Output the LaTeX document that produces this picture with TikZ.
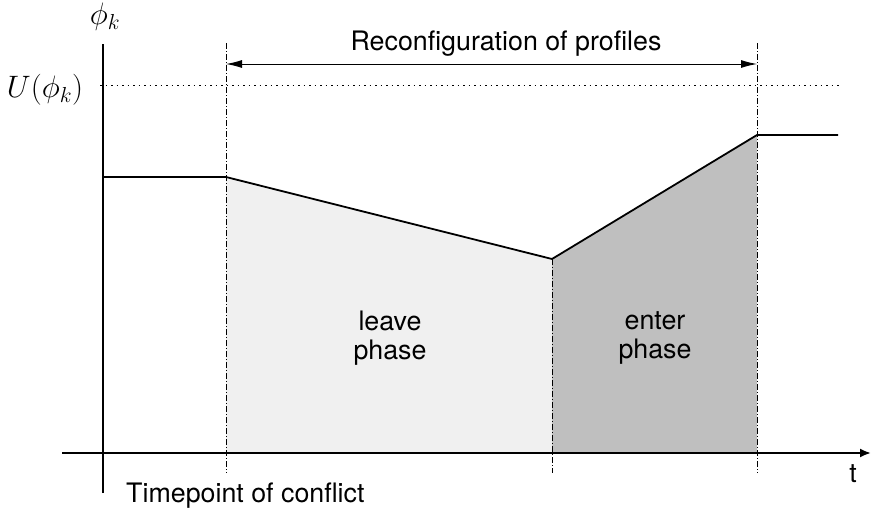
\documentclass[tikz,border=0pt]{standalone}
\usepackage{fix-cm}
\usepackage{fontspec}
\setmainfont{TeX Gyre Heros}
\setsansfont{TeX Gyre Heros}
\usetikzlibrary{arrows.meta}
\begin{document}
\begin{tikzpicture}[x=1pt,y=-1pt,
  lbl/.style={font=\fontsize{26.8}{29.5}\selectfont, inner sep=0pt, align=center},
  mlbl/.style={font=\fontsize{31}{34}\selectfont, inner sep=0pt},
  axis/.style={line width=2pt},
  profile/.style={line width=1.8pt, line join=miter},
  marker/.style={line width=0.8pt, dash pattern=on 6pt off 2pt on 1pt off 2pt},
  limit/.style={line width=0.8pt, dash pattern=on 1.5pt off 4pt},
  span/.style={line width=1pt, {Latex[length=16pt,width=8pt]}-{Latex[length=16pt,width=8pt]}}]
\useasboundingbox (0,0) rectangle (871,514);

% key points of the profile
\coordinate (p0) at (103,177);
\coordinate (p1) at (226,177);
\coordinate (p2) at (552,259);
\coordinate (p3) at (757,135);
\coordinate (p4) at (838,135);
\coordinate (b1) at (226,453);
\coordinate (b2) at (552,453);
\coordinate (b3) at (757,453);

% phase areas
\fill[gray!12] (p1) -- (p2) -- (b2) -- (b1) -- cycle;
\fill[gray!50] (p2) -- (p3) -- (b3) -- (b2) -- cycle;

% upper limit
\coordinate (u0) at (100,85);
\coordinate (u1) at (840,85);
\draw[limit] (u0) -- (u1);

% phase boundaries
\coordinate (m1t) at (226,43); \coordinate (m1b) at (226,473);
\coordinate (m2t) at (552,259); \coordinate (m2b) at (552,473);
\coordinate (m3t) at (757,43); \coordinate (m3b) at (757,473);
\draw[marker] (m1t) -- (m1b);
\draw[marker] (m2t) -- (m2b);
\draw[marker] (m3t) -- (m3b);

% axes
\coordinate (yb) at (103,493); \coordinate (yt) at (103,44);
\coordinate (xl) at (62,453);  \coordinate (xr) at (871,453);
\draw[axis] (yb) -- (yt);
\draw[axis, -{Latex[length=11pt,width=9pt]}] (xl) -- (xr);

% profile curve
\draw[profile] (p0) -- (p1) -- (p2) -- (p3) -- (p4);

% reconfiguration span
\coordinate (a1) at (226,64); \coordinate (a2) at (757,64);
\draw[span] (a1) -- (a2);

% labels
\node[mlbl] (phi) at (105,17) {$\phi_k$};
\node[mlbl] (ulim) at (45,90) {$U(\phi_k)$};
\node[lbl] (reconf) at (506,44) {Reconfiguration of profiles};
\node[lbl] (leave) at (390,338) {leave\\phase};
\node[lbl] (enter) at (655,338) {enter\\phase};
\node[lbl] (t) at (853,474) {t};
\node[lbl, anchor=base west] (tp) at (126,502) {Timepoint of conflict};
\end{tikzpicture}
\end{document}
